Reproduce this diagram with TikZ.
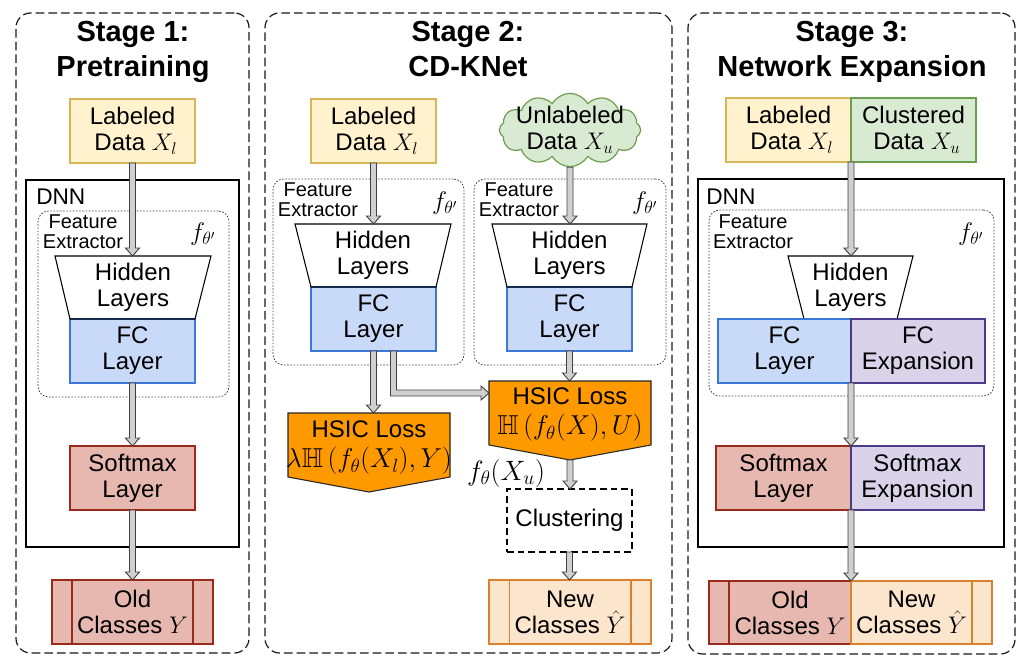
\RequirePackage{fix-cm}
\documentclass[tikz,border=0pt]{standalone}
\usepackage{amssymb}
\usepackage[no-math]{fontspec}
\setmainfont{Liberation Sans}
\usetikzlibrary{fit,calc,shapes.symbols}
\definecolor{yelF}{HTML}{FFF2CC}\definecolor{yelD}{HTML}{D6B656}
\definecolor{grnF}{HTML}{D9EAD3}\definecolor{grnD}{HTML}{6D9E4F}
\definecolor{bluF}{HTML}{C9DAF8}\definecolor{bluD}{HTML}{3C78D8}
\definecolor{redF}{HTML}{E6B8AF}\definecolor{redD}{HTML}{982B1C}
\definecolor{purF}{HTML}{D9D2E9}\definecolor{purD}{HTML}{4B3A8C}
\definecolor{orgF}{HTML}{FCE5CD}\definecolor{orgD}{HTML}{D9822B}
\definecolor{hsicF}{HTML}{FF9900}
\definecolor{arrF}{HTML}{D0D0D0}
\tikzset{
 txt/.style={font=\fontsize{18}{19.5}\selectfont, align=center, inner sep=0pt, outer sep=0pt},
 bx/.style={inner sep=0pt, outer sep=0pt, line width=0.9pt},
 yelbox/.style={bx, draw=yelD, fill=yelF},
 grnbox/.style={bx, draw=grnD, fill=grnF},
 blubox/.style={bx, draw=bluD, fill=bluF},
 redbox/.style={bx, draw=redD, fill=redF},
 purbox/.style={bx, draw=purD, fill=purF},
 orgbox/.style={bx, draw=orgD, fill=orgF},
 hsicshape/.style={draw=black!85, fill=hsicF, line width=0.8pt, line join=miter},
 trapshape/.style={draw=black, line width=0.8pt, line join=miter},
 stagebox/.style={draw=black!90, line width=0.9pt, dash pattern=on 6.5pt off 3pt, rounded corners=11pt, inner sep=0pt},
 dnnbox/.style={draw=black, line width=0.8pt, inner sep=0pt},
 febox/.style={draw=black!75, line width=0.6pt, dash pattern=on 1.2pt off 1.2pt, rounded corners=8pt, inner sep=0pt},
 clubox/.style={bx, draw=black, line width=0.8pt, dash pattern=on 5pt off 3pt},
 stitle/.style={font=\bfseries\fontsize{21.75}{26}\selectfont, inner sep=0pt},
 smalltxt/.style={font=\fontsize{15}{15}\selectfont, align=center, inner sep=0pt},
 dnnlab/.style={font=\fontsize{17}{17}\selectfont, inner sep=0pt},
 flab/.style={font=\fontsize{19}{19}\selectfont, inner sep=0pt},
 barrow/.style={draw=black!75, fill=arrF, line width=0.7pt, line join=miter},
}
\newcommand\blockdown[2]{%
 \path[barrow] let \p1=(#1), \p2=(#2) in
 (\x1-2.25pt,\y1) -- (\x1-2.25pt,\y2+6pt) -- (\x1-5.25pt,\y2+6pt) -- (\x1,\y2)
 -- (\x1+5.25pt,\y2+6pt) -- (\x1+2.25pt,\y2+6pt) -- (\x1+2.25pt,\y1) -- cycle;}
\begin{document}
\begin{tikzpicture}[x=0.75pt,y=-0.75pt]
\useasboundingbox (0,0) rectangle (1024,667);
% ---------- stage frames ----------
\node[stagebox, fit={(16,13)(249,653)}] (st1) {};
\node[stagebox, fit={(265,13)(672,653)}] (st2) {};
\node[stagebox, fit={(688,13)(1015,654)}] (st3) {};
\node[stitle, anchor=base] (t1a) at (133,42) {Stage 1:};
\node[stitle, anchor=base] (t1b) at (133,77) {Pretraining};
\node[stitle, anchor=base] (t2a) at (468,42) {Stage 2:};
\node[stitle, anchor=base] (t2b) at (468,77) {CD-KNet};
\node[stitle, anchor=base] (t3a) at (852,42) {Stage 3:};
\node[stitle, anchor=base] (t3b) at (852,77) {Network Expansion};
% ---------- stage 1 ----------
\node[dnnbox, fit={(26,180)(239,547)}] (dnn1) {};
\node[dnnlab, anchor=base west] (dnn1l) at (36,204) {DNN};
\node[febox, fit={(38,211)(229,397)}] (fe1) {};
\node[smalltxt] (fe1l) at (83,232) {Feature\\Extractor};
\node[flab] (f1) at (203,234) {$f_{\theta'}$};
\node[yelbox, fit={(70,99)(195,163)}] (lab1) {};
\node[txt] (lab1t) at (lab1.center) {Labeled\\\hspace*{5pt}Data $X_l$};
\node[blubox, fit={(70,319)(195,383)}] (fc1) {};
\node[txt] (fc1t) at (fc1.center) {FC\\Layer};
\node[bx, fit={(55,256)(211,319)}] (hid1) {};
\draw[trapshape] (hid1.north west) -- (hid1.north east) -- (fc1.north east) -- (fc1.north west) -- cycle;
\node[txt] (hid1t) at (hid1.center) {Hidden\\Layers};
\node[redbox, fit={(70,446)(195,510)}] (sm1) {};
\node[txt] (sm1t) at (sm1.center) {Softmax\\Layer};
\node[redbox, fit={(52,580)(213,644)}] (old1) {};
\node[txt] (old1t) at (old1.center) {Old\\Classes $Y$};
\draw[draw=redD, line width=0.9pt] ([xshift=15pt]old1.north west) -- ([xshift=15pt]old1.south west);
\draw[draw=redD, line width=0.9pt] ([xshift=-15pt]old1.north east) -- ([xshift=-15pt]old1.south east);
\blockdown{lab1.south}{hid1.north}
\blockdown{fc1.south}{sm1.north}
\blockdown{sm1.south}{old1.north}
% ---------- stage 2 ----------
\node[febox, fit={(273,179)(464,365)}] (fe2l) {};
\node[febox, fit={(474,179)(666,365)}] (fe2r) {};
\node[smalltxt] (fe2ll) at (318,200) {Feature\\Extractor};
\node[smalltxt] (fe2rl) at (519,200) {Feature\\Extractor};
\node[flab] (f2l) at (445,203) {$f_{\theta'}$};
\node[flab] (f2r) at (645,203) {$f_{\theta'}$};
\node[yelbox, fit={(311,99)(436,163)}] (lab2) {};
\node[txt] (lab2t) at (lab2.center) {Labeled\\\hspace*{5pt}Data $X_l$};
\node[cloud, cloud puffs=12, cloud puff arc=120, aspect=1.9, draw=grnD, fill=grnF, line width=0.9pt, minimum width=106pt, minimum height=55pt, inner sep=0pt] (cl2) at (570,130) {};
\node[txt] (cl2t) at (cl2.center) {Unlabeled\\Data $X_u$};
\node[blubox, fit={(311,287)(436,351)}] (fc2l) {};
\node[txt] (fc2lt) at (fc2l.center) {FC\\Layer};
\node[blubox, fit={(507,287)(632,351)}] (fc2r) {};
\node[txt] (fc2rt) at (fc2r.center) {FC\\Layer};
\node[bx, fit={(295,224)(451,287)}] (hid2l) {};
\node[bx, fit={(492,224)(647,287)}] (hid2r) {};
\draw[trapshape] (hid2l.north west) -- (hid2l.north east) -- (fc2l.north east) -- (fc2l.north west) -- cycle;
\draw[trapshape] (hid2r.north west) -- (hid2r.north east) -- (fc2r.north east) -- (fc2r.north west) -- cycle;
\node[txt] (hid2lt) at (hid2l.center) {Hidden\\Layers};
\node[txt] (hid2rt) at (hid2r.center) {Hidden\\Layers};
% HSIC losses
\node[bx, fit={(288,413)(450,477)}] (h1) {};
\coordinate (h1apex) at ($(h1.south)+(0,15)$);
\draw[hsicshape] (h1.north west) -- (h1.north east) -- (h1.south east) -- (h1apex) -- (h1.south west) -- cycle;
\node[txt] (h1t) at ($(h1.center)+(0,3)$) {HSIC Loss\\[3pt]{\fontsize{20.5}{20.5}\selectfont$\lambda\mathbb{H}\left(f_\theta(X_l),Y\right)$}};
\node[bx, fit={(489,381)(651,445)}] (h2) {};
\coordinate (h2apex) at ($(h2.south)+(0,15)$);
\draw[hsicshape] (h2.north west) -- (h2.north east) -- (h2.south east) -- (h2apex) -- (h2.south west) -- cycle;
\node[txt] (h2t) at ($(h2.center)+(0,2)$) {HSIC Loss\\[3pt]{\fontsize{20.5}{20.5}\selectfont$\mathbb{H}\left(f_\theta(X),U\right)$}};
\node[font=\fontsize{21}{21}\selectfont, inner sep=0pt] (fxu) at (506,473) {$f_\theta(X_u)$};
\node[clubox, fit={(507,489)(632,552)}] (clu) {};
\node[txt] (clut) at (clu.center) {Clustering};
\node[orgbox, fit={(489,580)(651,644)}] (new2) {};
\node[txt] (new2t) at (new2.center) {New\\Classes $\hat{Y}$};
\draw[draw=orgD, line width=0.9pt] ([xshift=15.5pt]new2.north west) -- ([xshift=15.5pt]new2.south west);
\draw[draw=orgD, line width=0.9pt] ([xshift=-15pt]new2.north east) -- ([xshift=-15pt]new2.south east);
\blockdown{lab2.south}{hid2l.north}
\blockdown{cl2.south}{hid2r.north}
\blockdown{fc2r.south}{h2.north}
\blockdown{fc2l.south}{h1.north}
\blockdown{h2apex}{clu.north}
\blockdown{clu.south}{new2.north}
\coordinate (elbS) at ($(fc2l.south)+(20,0)$);
\coordinate (elbE) at ($(h2.north west)+(0,12)$);
\path[barrow] let \p1=(elbS), \p2=(elbE) in
 (\x1-2.25pt,\y1) -- (\x1-2.25pt,\y2-2.25pt) -- (\x2-6pt,\y2-2.25pt) -- (\x2-6pt,\y2-5.25pt)
 -- (\x2,\y2) -- (\x2-6pt,\y2+5.25pt) -- (\x2-6pt,\y2+2.25pt) -- (\x1+2.25pt,\y2+2.25pt)
 -- (\x1+2.25pt,\y1) -- cycle;
% ---------- stage 3 ----------
\node[dnnbox, fit={(698,179)(1004,547)}] (dnn3) {};
\node[dnnlab, anchor=base west] (dnn3l) at (706,204) {DNN};
\node[febox, fit={(709,210)(994,396)}] (fe3) {};
\node[smalltxt] (fe3l) at (753,232) {Feature\\Extractor};
\node[flab] (f3) at (971,234) {$f_{\theta'}$};
\node[yelbox, fit={(726,98)(851,162)}] (lab3) {};
\node[txt] (lab3t) at (lab3.center) {Labeled\\\hspace*{5pt}Data $X_l$};
\node[grnbox, fit={(851,98)(976,162)}] (clu3) {};
\node[txt] (clu3t) at (clu3.center) {Clustered\\\hspace*{5pt}Data $X_u$};
\node[bx, fit={(788,256)(913,319)}] (hid3) {};
\draw[trapshape] (hid3.north west) -- (hid3.north east) -- ($(hid3.south east)+(-16,0)$) -- ($(hid3.south west)+(16,0)$) -- cycle;
\node[txt] (hid3t) at (hid3.center) {Hidden\\Layers};
\node[blubox, fit={(718,319)(851,383)}] (fc3) {};
\node[txt] (fc3t) at (fc3.center) {FC\\Layer};
\node[purbox, fit={(851,319)(985,383)}] (fcx3) {};
\node[txt] (fcx3t) at (fcx3.center) {FC\\Expansion};
\node[redbox, fit={(716,446)(851,510)}] (sm3) {};
\node[txt] (sm3t) at (sm3.center) {Softmax\\Layer};
\node[purbox, fit={(851,446)(984,510)}] (smx3) {};
\node[txt] (smx3t) at (smx3.center) {Softmax\\Expansion};
\node[redbox, fit={(709,581)(851,644)}] (old3) {};
\node[txt] (old3t) at ($(old3.center)+(10,0)$) {Old\\Classes $Y$};
\draw[draw=redD, line width=0.9pt] ([xshift=15pt]old3.north west) -- ([xshift=15pt]old3.south west);
\node[orgbox, fit={(851,581)(992,644)}] (new3) {};
\node[txt] (new3t) at ($(new3.center)+(-10,0)$) {New\\Classes $\hat{Y}$};
\draw[draw=orgD, line width=0.9pt] ([xshift=-15pt]new3.north east) -- ([xshift=-15pt]new3.south east);
\blockdown{lab3.south east}{hid3.north}
\blockdown{fc3.south east}{sm3.north east}
\blockdown{sm3.south east}{old3.north east}
\end{tikzpicture}
\end{document}
